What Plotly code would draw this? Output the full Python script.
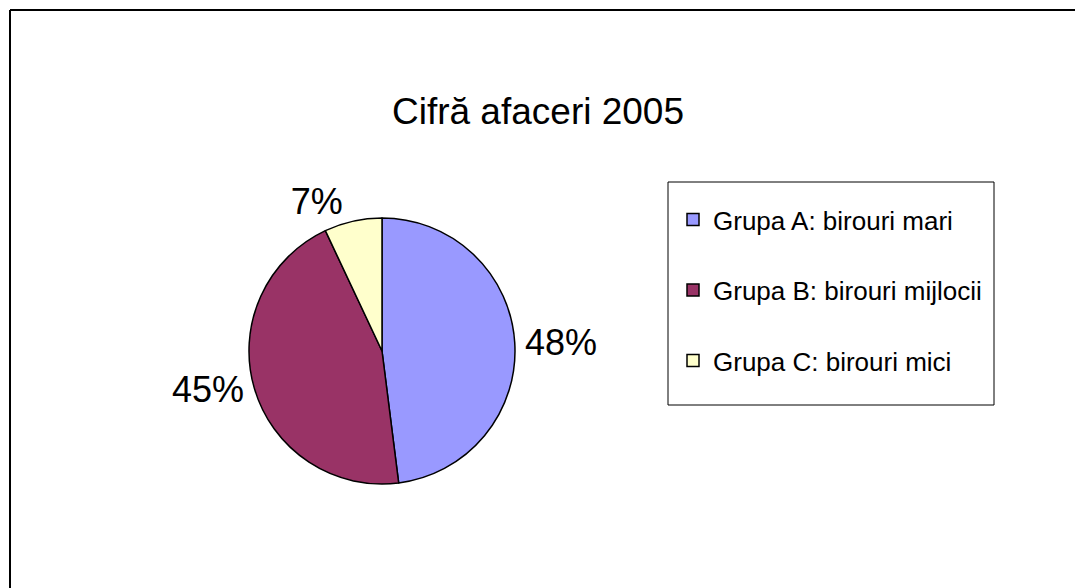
import plotly.graph_objects as go

# ---- data ----
categories = ["Grupa A: birouri mari", "Grupa B: birouri mijlocii", "Grupa C: birouri mici"]
values = [48, 45, 7]
colors = ["#9999FF", "#993366", "#FFFFCC"]
title_text = "Cifră afaceri 2005"

W, H = 1075, 588
FONT = "Liberation Sans, Arial, sans-serif"


def px(x):
    return x / W


def py(y):
    return 1 - y / H


# legend labels: extra blank line gives the tall row spacing of the original
legend_labels = [c + "<br>&nbsp;" for c in categories]

fig = go.Figure(
    go.Pie(
        labels=legend_labels,
        values=values,
        marker=dict(colors=colors, line=dict(color="black", width=1.5)),
        sort=False,
        direction="clockwise",
        rotation=0,
        textinfo="percent",
        texttemplate="%{percent:.0%}",
        textposition="outside",
        textfont=dict(size=36, color="black", family=FONT),
        domain=dict(x=[px(249), px(515)], y=[py(484), py(218)]),
        hoverinfo="skip",
    )
)

fig.update_layout(
    width=W,
    height=H,
    margin=dict(l=0, r=0, t=0, b=0),
    paper_bgcolor="white",
    plot_bgcolor="white",
    font=dict(family=FONT, color="black"),
    title=dict(
        text=title_text,
        font=dict(size=37, color="black", family=FONT),
        x=px(538),
        xanchor="center",
        y=py(111),
        yanchor="middle",
    ),
    showlegend=True,
    legend=dict(
        x=px(673),
        xanchor="left",
        y=py(196),
        yanchor="top",
        valign="top",
        traceorder="normal",
        font=dict(size=26, color="black", family=FONT),
        bgcolor="rgba(0,0,0,0)",
        borderwidth=0,
    ),
    shapes=[
        # chart border (top and left edges visible)
        dict(type="line", xref="paper", yref="paper", x0=px(10), x1=px(1080),
             y0=py(10), y1=py(10), line=dict(color="black", width=2)),
        dict(type="line", xref="paper", yref="paper", x0=px(10), x1=px(10),
             y0=py(10), y1=py(600), line=dict(color="black", width=2)),
        # legend box
        dict(type="rect", xref="paper", yref="paper", x0=px(668), x1=px(994),
             y0=py(182), y1=py(405), line=dict(color="black", width=1),
             fillcolor="rgba(0,0,0,0)"),
    ],
)

fig.write_html(
    "out.html",
    config={"displayModeBar": False},
    post_script="document.body.style.margin='0';document.body.style.overflow='hidden';",
)
